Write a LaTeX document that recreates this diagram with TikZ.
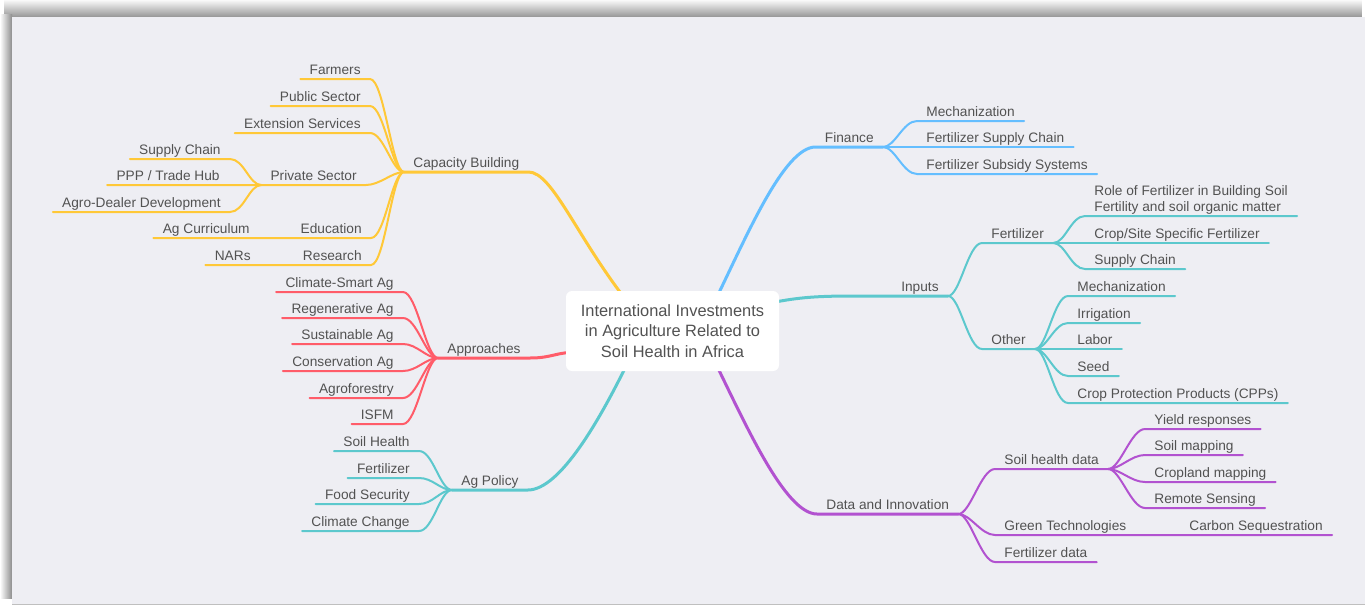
\documentclass[tikz,border=0pt]{standalone}
\usepackage{fontspec}
\setmainfont{Liberation Sans}

\definecolor{canvas}{RGB}{238,238,243}
\definecolor{txt}{RGB}{82,82,82}
\definecolor{cbcol}{RGB}{255,200,55}
\definecolor{fincol}{RGB}{100,190,255}
\definecolor{inpcol}{RGB}{92,200,205}
\definecolor{apcol}{RGB}{255,92,105}
\definecolor{dicol}{RGB}{178,82,208}

\tikzset{every picture/.style={line width=0.75pt},
	lbltxt/.style={font=\fontsize{13.7}{16.5}\selectfont, text=txt, inner xsep=9pt, inner ysep=1pt},
	lbl/.style={lbltxt, text height=10pt, text depth=3pt},
	lblL/.style={lbl, anchor=south east},
	lblR/.style={lbl, anchor=south west},
	centre/.style={fill=white, rounded corners=6pt, minimum width=213pt, minimum height=80pt, inner sep=0pt, align=center, text=txt, font=\fontsize{16.4}{20.5}\selectfont},
	mainline/.style={line width=3pt, line cap=round},
	subline/.style={line width=2pt, line cap=round}}

\begin{document}
\begin{tikzpicture}[x=1pt,y=1pt,yscale=-1,xscale=1]
		\useasboundingbox (0,0) rectangle (1365,606);
		
		%page, shadow and canvas
		\fill[white] (0,0) rectangle (1365,606);
		\foreach \i [evaluate=\i as \g using 2.3*\i] in {1,...,17}
			\fill[black!\g] (4,\i-1) rectangle (1362,\i);
		\shade[left color=white, right color=black!45] (0,14) rectangle (12,598);
		\fill[canvas] (12,17) rectangle (1365,604);
		\draw[black!25, line width=1pt] (12,604.5) -- (1365,604.5);
		
		%start points hidden under the centre box
		\coordinate (cbS) at (630,305);
		\coordinate (apS) at (580,352);
		\coordinate (polS) at (630,358);
		\coordinate (finS) at (713,305);
		\coordinate (inpS) at (770,303);
		\coordinate (diS) at (713,358);
		
		%Capacity Building
		\node[lblR] (capbuild) at (404,172) {Capacity Building};
		\node[lblL] (farmers) at (370,79) {Farmers};
		\node[lblL] (public) at (370,106) {Public Sector};
		\node[lblL] (extension) at (370,133) {Extension Services};
		\node[lblL] (private) at (366,185) {Private Sector};
		\node[lblL] (education) at (371,238) {Education};
		\node[lblL] (research) at (371,265) {Research};
		\node[lblL] (supply) at (230,159) {Supply Chain};
		\node[lblL] (ppp) at (229,185) {PPP / Trade Hub};
		\node[lblL] (agrodealer) at (230,212) {Agro-Dealer Development};
		\node[lblL] (agcurr) at (259,238) {Ag Curriculum};
		\node[lblL] (nars) at (260,265) {NARs};
		
		\draw[mainline, cbcol] (cbS) .. controls +(-52,-65) and +(24,0) .. (capbuild.south east) -- (capbuild.south west);
		\draw[subline, cbcol] (capbuild.south west) .. controls +(-12,0) and +(14,0) .. (farmers.south east) -- (farmers.south west);
		\draw[subline, cbcol] (capbuild.south west) .. controls +(-12,0) and +(14,0) .. (public.south east) -- (public.south west);
		\draw[subline, cbcol] (capbuild.south west) .. controls +(-12,0) and +(14,0) .. (extension.south east) -- (extension.south west);
		\draw[subline, cbcol] (capbuild.south west) .. controls +(-12,0) and +(14,0) .. (private.south east) -- (private.south west) -- (ppp.south east) -- (ppp.south west);
		\draw[subline, cbcol] (capbuild.south west) .. controls +(-12,0) and +(14,0) .. (education.south east) -- (education.south west) -- (agcurr.south east) -- (agcurr.south west);
		\draw[subline, cbcol] (capbuild.south west) .. controls +(-12,0) and +(14,0) .. (research.south east) -- (research.south west) -- (nars.south east) -- (nars.south west);
		\draw[subline, cbcol] (private.south west) .. controls +(-12,0) and +(14,0) .. (supply.south east) -- (supply.south west);
		\draw[subline, cbcol] (private.south west) .. controls +(-12,0) and +(14,0) .. (agrodealer.south east) -- (agrodealer.south west);
		
		%Approaches
		\node[lblR] (approaches) at (438,358) {Approaches};
		\node[lblL] (climatesmart) at (403,292) {Climate-Smart Ag};
		\node[lblL] (regenerative) at (403,318) {Regenerative Ag};
		\node[lblL] (sustainable) at (403,344) {Sustainable Ag};
		\node[lblL] (conservation) at (403,371) {Conservation Ag};
		\node[lblL] (agroforestry) at (403,398) {Agroforestry};
		\node[lblL] (isfm) at (403,424) {ISFM};
		
		\draw[mainline, apcol] (apS) .. controls +(-25,0) and +(23,0) .. (approaches.south east) -- (approaches.south west);
		\draw[subline, apcol] (approaches.south west) .. controls +(-12,0) and +(14,0) .. (climatesmart.south east) -- (climatesmart.south west);
		\draw[subline, apcol] (approaches.south west) .. controls +(-12,0) and +(14,0) .. (regenerative.south east) -- (regenerative.south west);
		\draw[subline, apcol] (approaches.south west) .. controls +(-12,0) and +(14,0) .. (sustainable.south east) -- (sustainable.south west);
		\draw[subline, apcol] (approaches.south west) .. controls +(-12,0) and +(14,0) .. (conservation.south east) -- (conservation.south west);
		\draw[subline, apcol] (approaches.south west) .. controls +(-12,0) and +(14,0) .. (agroforestry.south east) -- (agroforestry.south west);
		\draw[subline, apcol] (approaches.south west) .. controls +(-12,0) and +(14,0) .. (isfm.south east) -- (isfm.south west);
		
		%Ag Policy
		\node[lblR] (agpolicy) at (452,490) {Ag Policy};
		\node[lblL] (soilhealth) at (419,451) {Soil Health};
		\node[lblL] (policyfert) at (419,478) {Fertilizer};
		\node[lblL] (foodsec) at (419,504) {Food Security};
		\node[lblL] (climchange) at (419,531) {Climate Change};
		
		\draw[mainline, inpcol] (polS) .. controls +(-30,62) and +(32,0) .. (agpolicy.south east) -- (agpolicy.south west);
		\draw[subline, inpcol] (agpolicy.south west) .. controls +(-12,0) and +(14,0) .. (soilhealth.south east) -- (soilhealth.south west);
		\draw[subline, inpcol] (agpolicy.south west) .. controls +(-12,0) and +(14,0) .. (policyfert.south east) -- (policyfert.south west);
		\draw[subline, inpcol] (agpolicy.south west) .. controls +(-12,0) and +(14,0) .. (foodsec.south east) -- (foodsec.south west);
		\draw[subline, inpcol] (agpolicy.south west) .. controls +(-12,0) and +(14,0) .. (climchange.south east) -- (climchange.south west);
		
		%Finance
		\node[lblL] (finance) at (883,147) {Finance};
		\node[lblR] (finmech) at (917,121) {Mechanization};
		\node[lblR] (finsupply) at (917,147) {Fertilizer Supply Chain};
		\node[lblR] (finsubsidy) at (917,174) {Fertilizer Subsidy Systems};
		
		\draw[mainline, fincol] (finS) .. controls +(32,-65) and +(-32,0) .. (finance.south west) -- (finance.south east);
		\draw[subline, fincol] (finance.south east) .. controls +(12,0) and +(-14,0) .. (finmech.south west) -- (finmech.south east);
		\draw[subline, fincol] (finance.south east) -- (finsupply.south west) -- (finsupply.south east);
		\draw[subline, fincol] (finance.south east) .. controls +(12,0) and +(-14,0) .. (finsubsidy.south west) -- (finsubsidy.south east);
		
		%Inputs
		\node[lblL] (inputs) at (948,296) {Inputs};
		\node[lblR] (fert) at (982,243) {Fertilizer};
		\node[lbltxt, anchor=south west, align=left] (role) at (1085,216) {Role of Fertilizer in Building Soil\\Fertility and soil organic matter};
		\node[lblR] (cropsite) at (1085,243) {Crop/Site Specific Fertilizer};
		\node[lblR] (fertchain) at (1085,269) {Supply Chain};
		\node[lblR] (other) at (982,349) {Other};
		\node[lblR] (othermech) at (1068,296) {Mechanization};
		\node[lblR] (irrigation) at (1068,323) {Irrigation};
		\node[lblR] (labor) at (1068,349) {Labor};
		\node[lblR] (seed) at (1068,376) {Seed};
		\node[lblR] (cpp) at (1068,403) {Crop Protection Products (CPPs)};
		
		\draw[mainline, inpcol] (inpS) .. controls +(30,-6) and +(-37,0) .. ([xshift=-36pt]inputs.south west) -- (inputs.south east);
		\draw[subline, inpcol] (inputs.south east) .. controls +(12,0) and +(-14,0) .. (fert.south west) -- (fert.south east);
		\draw[subline, inpcol] (inputs.south east) .. controls +(12,0) and +(-14,0) .. (other.south west) -- (other.south east);
		\draw[subline, inpcol] (fert.south east) .. controls +(12,0) and +(-14,0) .. (role.south west) -- (role.south east);
		\draw[subline, inpcol] (fert.south east) -- (cropsite.south west) -- (cropsite.south east);
		\draw[subline, inpcol] (fert.south east) .. controls +(12,0) and +(-14,0) .. (fertchain.south west) -- (fertchain.south east);
		\draw[subline, inpcol] (other.south east) .. controls +(12,0) and +(-14,0) .. (othermech.south west) -- (othermech.south east);
		\draw[subline, inpcol] (other.south east) .. controls +(12,0) and +(-14,0) .. (irrigation.south west) -- (irrigation.south east);
		\draw[subline, inpcol] (other.south east) -- (labor.south west) -- (labor.south east);
		\draw[subline, inpcol] (other.south east) .. controls +(12,0) and +(-14,0) .. (seed.south west) -- (seed.south east);
		\draw[subline, inpcol] (other.south east) .. controls +(12,0) and +(-14,0) .. (cpp.south west) -- (cpp.south east);
		
		%Data and Innovation
		\node[lblR] (datainno) at (817,514) {Data and Innovation};
		\node[lblR] (soildata) at (995,469) {Soil health data};
		\node[lblR] (yield) at (1145,429) {Yield responses};
		\node[lblR] (soilmap) at (1145,455) {Soil mapping};
		\node[lblR] (cropland) at (1145,482) {Cropland mapping};
		\node[lblR] (remote) at (1145,508) {Remote Sensing};
		\node[lblR] (greentech) at (995,535) {Green Technologies};
		\node[lblR] (carbon) at (1180,535) {Carbon Sequestration};
		\node[lblR] (fertdata) at (995,562) {Fertilizer data};
		
		\draw[mainline, dicol] (diS) .. controls +(32,65) and +(-32,0) .. (datainno.south west) -- (datainno.south east);
		\draw[subline, dicol] (datainno.south east) .. controls +(12,0) and +(-14,0) .. (soildata.south west) -- (soildata.south east);
		\draw[subline, dicol] (datainno.south east) .. controls +(12,0) and +(-14,0) .. (greentech.south west) -- (greentech.south east) -- (carbon.south west) -- (carbon.south east);
		\draw[subline, dicol] (datainno.south east) .. controls +(12,0) and +(-14,0) .. (fertdata.south west) -- (fertdata.south east);
		\draw[subline, dicol] (soildata.south east) .. controls +(12,0) and +(-14,0) .. (yield.south west) -- (yield.south east);
		\draw[subline, dicol] (soildata.south east) .. controls +(12,0) and +(-14,0) .. (soilmap.south west) -- (soilmap.south east);
		\draw[subline, dicol] (soildata.south east) .. controls +(12,0) and +(-14,0) .. (cropland.south west) -- (cropland.south east);
		\draw[subline, dicol] (soildata.south east) .. controls +(12,0) and +(-14,0) .. (remote.south west) -- (remote.south east);
		
		%Centre
		\node[centre] (centre) at (672.5,331) {International Investments\\in Agriculture Related to\\Soil Health in Africa};
		
\end{tikzpicture}
\end{document}
